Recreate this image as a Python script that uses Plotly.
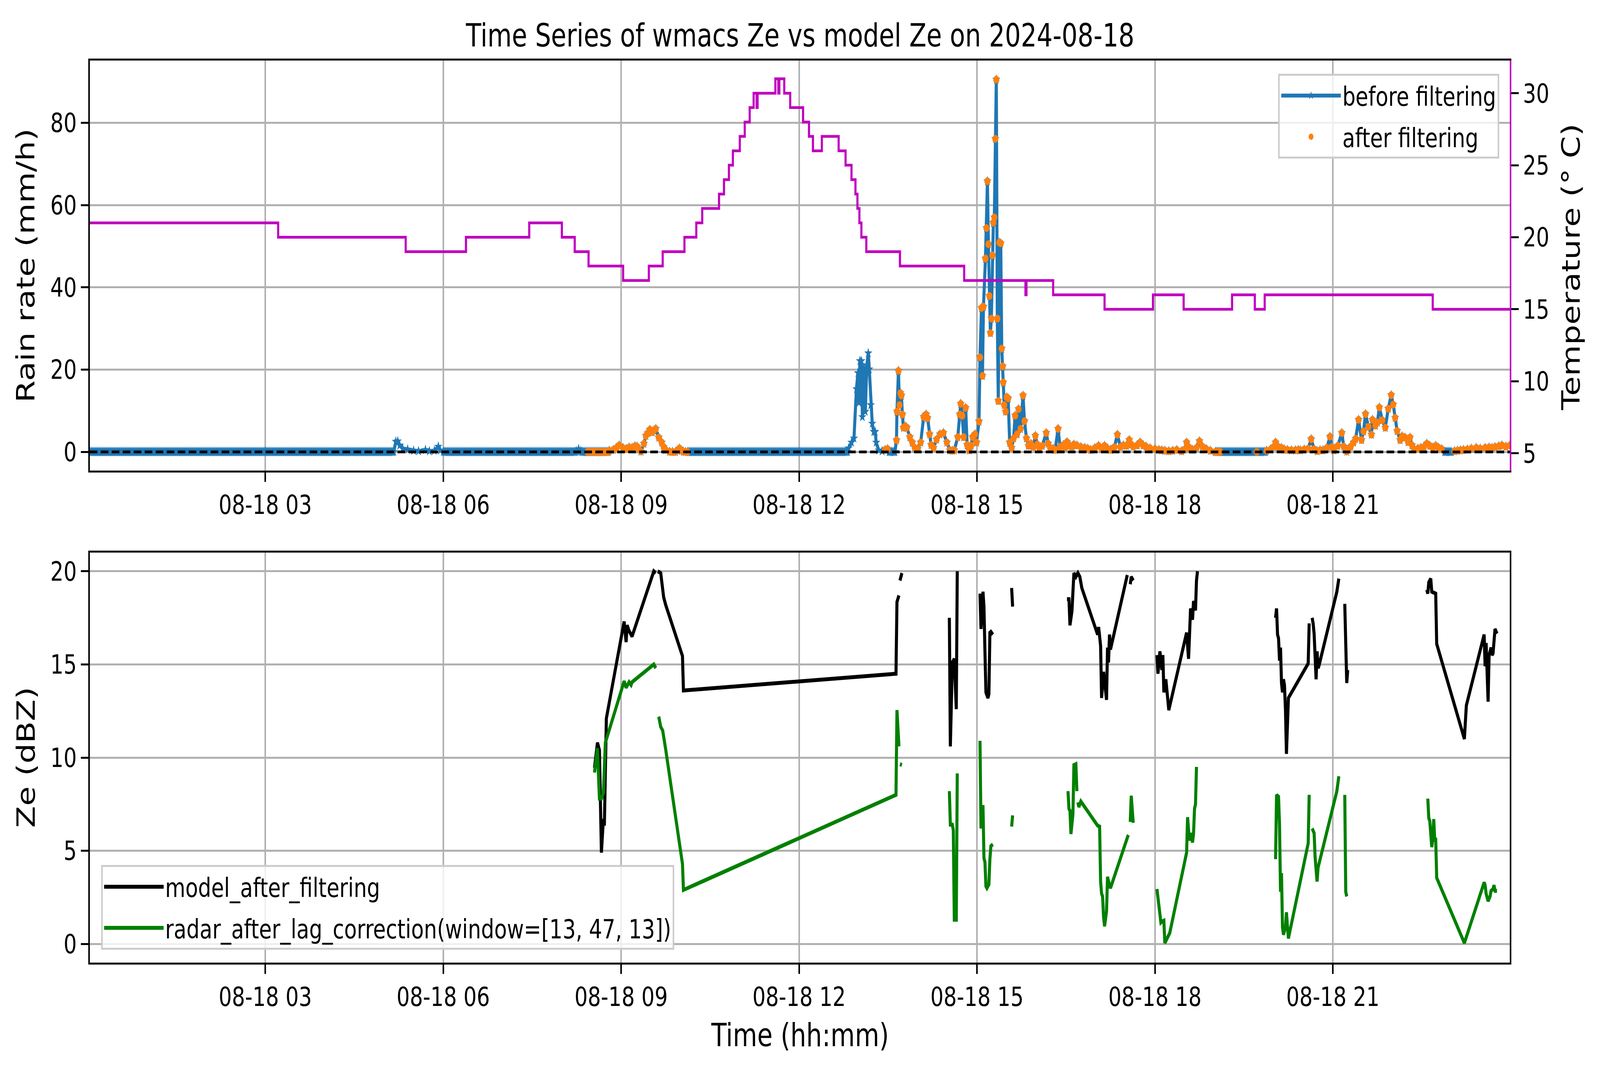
import pandas as pd
import plotly.graph_objects as go

day = "2024-08-18"

# top panel: rain rate (mm/h), dry stretches given as runs of 0 at 1-min steps
rain_zero_runs = [("00:02", "05:09"), ("06:01", "08:14"), ("08:20", "08:47"),
                  ("10:08", "12:49"), ("13:31", "13:37"), ("19:01", "19:52"),
                  ("22:53", "23:00")]

rain_time = ["05:10", "05:12", "05:14", "05:16", "05:19", "05:24", "05:30", "05:35", "05:42", "05:46",
             "05:51", "05:55", "05:57", "06:00", "08:15", "08:17", "08:19", "08:48", "08:52", "08:55",
             "08:58", "09:02", "09:05", "09:08", "09:11", "09:14", "09:16", "09:18", "09:20", "09:23",
             "09:25", "09:27", "09:29", "09:31:30", "09:33", "09:35", "09:38", "09:41", "09:43", "09:45",
             "09:49", "09:52", "09:55", "09:57", "09:59", "10:01", "10:03", "10:05", "10:07",
             "12:50", "12:53", "12:55:30", "12:58", "12:59:30", "13:00:30", "13:01:30", "13:03", "13:04", "13:05:30",
             "13:07", "13:08:30", "13:10", "13:11", "13:12:30", "13:14", "13:15:30", "13:17", "13:18", "13:20:30",
             "13:24", "13:27", "13:29:30", "13:38:30", "13:39", "13:40:30", "13:41:30", "13:42:30", "13:43:30", "13:44:30",
             "13:45:30", "13:47:30", "13:49", "13:52", "13:54:30", "13:57", "14:00", "14:03", "14:06", "14:08:30",
             "14:10", "14:12", "14:13:30", "14:16", "14:19", "14:22:30", "14:26", "14:29:30", "14:32:30", "14:35",
             "14:37", "14:40:30", "14:42:30", "14:43:30", "14:45", "14:46:30", "14:48:30", "14:50", "14:52", "14:54",
             "14:55:30", "14:58", "14:59:30", "15:02", "15:03", "15:04:30", "15:05:30", "15:06:30", "15:08:30", "15:09:30",
             "15:10:30", "15:11:30", "15:12:30", "15:13:30", "15:14:30", "15:15:30", "15:16:30", "15:17:30", "15:18:30", "15:19:30",
             "15:20:30", "15:21:30", "15:22:30", "15:24", "15:25", "15:26", "15:26:30", "15:27:30", "15:29", "15:30",
             "15:31:30", "15:33", "15:35", "15:37", "15:38:30", "15:40:30", "15:42", "15:44", "15:46:30", "15:48",
             "15:50", "15:52", "15:54:30", "15:57", "15:59", "16:01", "16:03", "16:06", "16:10", "16:12",
             "16:14", "16:17", "16:19", "16:22", "16:24", "16:27", "16:29", "16:31", "16:34", "16:36",
             "16:38", "16:41", "16:45", "16:49", "16:52", "16:55", "16:59", "17:03", "17:06", "17:09",
             "17:12", "17:15", "17:19", "17:22", "17:25", "17:28", "17:31", "17:34", "17:36", "17:38",
             "17:42", "17:45", "17:48", "17:51", "17:55", "18:00", "18:04", "18:07", "18:10", "18:14",
             "18:18", "18:22", "18:27", "18:30", "18:32", "18:35", "18:38", "18:42", "18:45", "18:48",
             "18:52", "18:56", "19:53", "19:57", "20:00", "20:02", "20:05", "20:08", "20:11", "20:14",
             "20:18", "20:22", "20:25", "20:27", "20:31", "20:35", "20:38", "20:41", "20:44", "20:47",
             "20:50", "20:54", "20:57", "20:59", "21:01", "21:05", "21:09", "21:11", "21:14", "21:16",
             "21:18", "21:21", "21:23", "21:26", "21:29", "21:31", "21:33", "21:36", "21:39", "21:40",
             "21:43", "21:45", "21:47", "21:50", "21:53", "21:56", "21:59", "22:01", "22:03", "22:05",
             "22:08", "22:10", "22:13", "22:16", "22:18", "22:20", "22:22", "22:26", "22:29", "22:32",
             "22:35", "22:38", "22:41", "22:44", "22:47", "22:50", "23:03", "23:06", "23:09", "23:12",
             "23:16", "23:20", "23:25", "23:29", "23:34", "23:38", "23:41", "23:44", "23:48", "23:51",
             "23:55", "23:59"]
rain_value = [0.05, 2.5, 2.6, 1.6, 0.8, 0.6, 0.3, 0.2, 0.5, 0.2,
              0.3, 1.3, 0.4, 0.05, 0.2, 0.7, 0.2, 0.3, 0.5, 0.9,
              1.6, 0.9, 0.7, 1.1, 1.0, 1.4, 1.3, 0.6, 0.1, 2.0,
              3.9, 4.6, 5.4, 4.8, 5.2, 5.6, 3.5, 2.3, 1.2, 0.5,
              0.05, 0.0, 0.0, 0.4, 0.85, 0.3, 0.05, 0.0, 0.0,
              0.9, 2.3, 3.3, 15.3, 19.2, 12.0, 22.1, 22.1, 8.5, 20.5,
              9.8, 21.1, 24.0, 20.1, 11.4, 6.9, 4.9, 4.9, 2.3, 0.4,
              0.2, 0.5, 0.7, 2.85, 9.8, 19.7, 11.4, 14.3, 13.7, 9.1,
              5.9, 6.2, 5.9, 3.6, 2.3, 1.0, 0.7, 2.3, 8.5, 9.1,
              8.2, 4.3, 1.7, 1.0, 3.0, 4.3, 4.6, 2.3, 0.4, 0.3,
              0.4, 3.6, 9.1, 11.7, 8.8, 3.6, 10.7, 1.7, 0.4, 1.5,
              3.6, 4.3, 2.3, 7.4, 23.0, 35.0, 18.5, 35.3, 47.0, 54.4,
              65.8, 50.5, 37.9, 28.9, 32.4, 47.8, 55.7, 57.0, 76.1, 90.5,
              32.4, 12.4, 50.9, 50.7, 25.1, 20.8, 16.9, 11.4, 9.8, 13.3,
              13.0, 2.3, 1.0, 3.3, 8.8, 4.3, 10.4, 5.6, 13.7, 7.5,
              3.3, 1.5, 2.0, 1.2, 3.9, 1.8, 1.0, 1.5, 4.6, 2.0,
              1.0, 0.8, 0.5, 5.6, 1.2, 1.6, 1.0, 2.4, 1.5, 1.3,
              1.8, 1.6, 1.2, 1.0, 0.8, 0.5, 0.9, 1.5, 0.7, 1.5,
              0.8, 0.5, 1.2, 4.2, 1.2, 1.6, 1.5, 2.9, 1.8, 1.3,
              1.6, 2.3, 1.6, 1.3, 0.9, 0.7, 0.5, 0.4, 0.3, 0.2,
              0.3, 0.5, 0.2, 0.6, 2.3, 1.0, 0.5, 1.0, 2.6, 1.3,
              0.7, 0.3, 0.3, 0.6, 1.2, 2.3, 1.2, 1.0, 0.6, 0.5,
              0.4, 0.4, 0.5, 0.4, 0.6, 0.8, 3.1, 0.7, 0.2, 0.4,
              0.4, 1.0, 3.7, 1.2, 0.4, 1.5, 4.6, 1.3, 0.1, 0.6,
              1.3, 2.3, 3.2, 7.8, 2.9, 5.0, 9.2, 6.1, 4.2, 7.8,
              6.4, 7.2, 10.8, 7.7, 5.9, 10.5, 13.8, 11.5, 8.3, 5.1,
              2.9, 3.8, 3.5, 2.4, 3.5, 1.6, 0.7, 0.8, 1.0, 1.2,
              2.0, 1.5, 1.0, 1.5, 1.0, 0.7, 0.2, 0.3, 0.4, 0.5,
              0.6, 0.8, 1.0, 0.8, 1.0, 1.1, 1.0, 1.2, 1.4, 1.6,
              1.3, 1.6]

# periods kept by the filter (orange dots)
kept_windows = [("08:26", "10:07"), ("13:26", "13:30"), ("13:38", "19:06"),
                ("19:43", "19:43"), ("19:53", "22:52"), ("23:01", "23:59")]

# temperature (deg C), value holds from each change time
temp_time = ["00:02", "03:13", "05:22", "06:23", "07:27", "08:00", "08:13", "08:27", "09:02", "09:28",
             "09:42", "10:04", "10:16", "10:22", "10:39", "10:44", "10:49", "10:53", "11:00", "11:05",
             "11:10", "11:14", "11:17", "11:18", "11:36", "11:39", "11:40", "11:45", "11:51", "12:04",
             "12:10", "12:14", "12:23", "12:40", "12:47", "12:53", "12:57", "12:59", "13:01", "13:03",
             "13:08", "13:42", "14:47", "15:49", "15:50", "16:17", "17:09", "17:58", "18:29", "19:18",
             "19:41", "19:51", "22:41", "23:59"]
temp_value = [21, 20, 19, 20, 21, 20, 19, 18, 17, 18,
              19, 20, 21, 22, 23, 24, 25, 26, 27, 28,
              29, 30, 29, 30, 31, 30, 31, 30, 29, 28,
              27, 26, 27, 26, 25, 24, 23, 22, 21, 20,
              19, 18, 17, 16, 17, 16, 15, 16, 15, 16,
              15, 16, 15, 15]

# bottom panel: Ze (dBZ); None marks a break in the line
model_time = ["08:33", "08:36", "08:38", "08:40", "08:42", "08:43", "08:45", "09:03", "09:05", "09:06",
              "09:08", "09:11", "09:33", "09:35", "09:36", "09:37", "09:40", "09:43", "09:45", "10:02",
              "10:03", "13:38", "13:39", "13:41", "13:41:30", "13:42", "13:44", "14:00",
              "14:32", "14:33", "14:35", "14:37", "14:39", "14:40", "14:50",
              "15:03", "15:04", "15:06", "15:07", "15:08", "15:09", "15:11", "15:12", "15:13", "15:14",
              "15:16", "15:25", "15:35", "15:36", "16:00",
              "16:31", "16:33", "16:34", "16:36", "16:38", "16:40", "16:42", "16:44", "16:46", "17:02",
              "17:03", "17:05", "17:06", "17:08", "17:11", "17:12", "17:13", "17:14", "17:15", "17:32",
              "17:33", "17:35", "17:36", "17:38", "17:50",
              "18:02", "18:03", "18:05", "18:07", "18:08", "18:09", "18:11", "18:14", "18:32", "18:34",
              "18:36", "18:38", "18:39", "18:41", "18:42", "18:43", "19:00",
              "20:02", "20:03", "20:04", "20:05", "20:06", "20:07", "20:08", "20:09", "20:10", "20:11",
              "20:12", "20:13", "20:15", "20:35", "20:36", "20:37",
              "20:39", "20:40", "20:41", "20:43", "20:44", "20:45", "20:46", "21:04", "21:06", "21:09",
              "21:12", "21:13", "21:14", "21:15", "21:30",
              "22:35", "22:36", "22:37", "22:39", "22:40", "22:42", "22:44", "22:45", "23:13", "23:15",
              "23:33", "23:34", "23:35", "23:37", "23:38", "23:40", "23:41", "23:42", "23:44", "23:46"]
model_ze = [9.45, 10.8, 10.4, 4.9, 6.7, 6.35, 12.1, 17.3, 16.2, 17.1,
            16.8, 16.5, 20.0, 19.9, None, 20.0, 19.9, 18.6, 18.2, 15.45,
            13.6, 14.5, 18.35, 18.7, None, 19.5, 19.9, None,
            17.5, 10.6, 15.1, 15.3, 12.6, 20.0, None,
            18.8, 16.9, 18.9, 18.1, 15.7, 13.5, 13.2, 13.4, 16.7, 16.75,
            16.6, None, 19.1, 18.1, None,
            18.5, 18.5, 17.1, 17.85, 19.9, 19.7, 19.9, 19.7, 19.1, 16.6,
            17.0, 16.0, 13.2, 14.6, 13.1, 15.9, 15.1, 16.6, 15.8, 19.8,
            None, 19.3, 19.7, 19.5, None,
            15.5, 14.5, 15.7, 14.7, 15.5, 13.5, 14.2, 12.55, 16.7, 15.3,
            18.0, 17.4, 18.4, 17.9, 19.5, 20.0, None,
            17.5, 18.0, 16.6, 16.4, 15.2, 15.9, 14.0, 13.5, 14.2, 13.9,
            12.6, 10.2, 13.2, 15.05, 17.2, None,
            17.5, 17.2, 16.65, 14.2, 15.7, 14.8, 14.95, 18.9, 19.6, None,
            18.25, 14.9, 14.0, 14.7, None,
            19.0, 18.8, 19.4, 19.6, 18.9, 18.85, 18.8, 16.1, 11.0, 12.8,
            16.6, 14.9, 16.15, 13.0, 15.5, 15.9, 15.5, 15.6, 16.9, 16.65]

radar_time = ["08:33", "08:36", "08:38", "08:40", "08:42", "08:44", "09:03", "09:05", "09:08", "09:10",
              "09:11", "09:33", "09:35", "09:36", "09:38", "09:40", "09:42", "09:45", "10:02", "10:03",
              "13:38", "13:39", "13:41", "13:41:30", "13:42", "13:44", "14:00",
              "14:32", "14:33", "14:35", "14:36", "14:37", "14:39", "14:40", "14:50",
              "15:03", "15:04", "15:06", "15:07", "15:08", "15:09", "15:10", "15:11", "15:12", "15:13",
              "15:14", "15:16", "15:25", "15:35", "15:36", "16:00",
              "16:32", "16:33", "16:34", "16:35", "16:37", "16:38", "16:40", "16:41", "16:41:20", "16:42",
              "16:43", "16:45", "17:02", "17:04", "17:05", "17:06", "17:07", "17:08", "17:09", "17:11",
              "17:12", "17:14", "17:15", "17:33", "17:34", "17:35", "17:36", "17:38", "17:50",
              "18:02", "18:03", "18:04", "18:06", "18:07", "18:09", "18:10", "18:15", "18:32", "18:33",
              "18:34", "18:35", "18:36", "18:38", "18:39", "18:40", "18:41", "18:42", "19:00",
              "20:02", "20:03", "20:05", "20:06", "20:07", "20:08", "20:09", "20:10", "20:12", "20:13",
              "20:14", "20:15", "20:35", "20:36", "20:37",
              "20:39", "20:41", "20:42", "20:44", "20:45", "21:04", "21:06", "21:09",
              "21:12", "21:13", "21:14", "21:30",
              "22:36", "22:37", "22:38", "22:40", "22:41", "22:42", "22:43", "22:44", "22:45", "23:13",
              "23:33", "23:34", "23:35", "23:37", "23:39", "23:40", "23:42", "23:43", "23:44", "23:46"]
radar_ze = [9.2, 10.5, 7.8, 7.8, 8.1, 10.8, 14.1, 13.75, 14.05, 13.9,
            14.05, 15.0, 14.8, None, 12.2, 11.65, 11.45, 10.45, 4.3, 2.9,
            8.0, 12.55, 10.6, None, 9.65, 9.6, None,
            8.2, 6.4, 6.4, 6.1, 1.3, 1.3, 9.15, None,
            10.9, 6.2, 7.45, 4.6, 4.4, 3.1, 3.0, 3.15, 3.2, 4.55,
            5.25, 5.35, None, 6.3, 6.9, None,
            8.2, 7.25, 7.15, 5.9, 6.95, 9.6, 9.65, 8.2, None, 7.6,
            7.35, 7.65, 6.35, 6.3, 3.35, 2.7, 2.55, 1.45, 0.95, 1.75,
            3.6, 3.15, 3.0, 5.85, None, 6.55, 7.95, 6.5, None,
            2.95, 2.5, 2.1, 1.15, 1.2, 1.25, 0.05, 0.6, 4.9, 6.8,
            6.1, 5.55, 5.95, 5.45, 5.9, 7.25, 7.5, 9.5, None,
            4.55, 8.0, 7.9, 6.4, 2.8, 3.8, 0.9, 0.5, 0.9, 1.7,
            0.95, 0.3, 5.4, 8.0, None,
            6.2, 5.95, 4.65, 3.35, 4.1, 8.2, 9.0, None,
            8.0, 2.8, 2.55, None,
            7.8, 6.75, 6.6, 5.2, 5.6, 6.7, 5.6, 5.6, 3.55, 0.05,
            3.3, 3.15, 2.7, 2.3, 2.55, 2.85, 2.95, 3.15, 2.85, 2.85]

baseline_rain = 0
x_start, x_end = "00:02:24", "23:59:06"
rain_range = [-4.53, 95.13]
temp_range = [3.80, 32.27]
ze_range = [-1.0, 21.0]


def ts(t):
    return pd.to_datetime(day + " " + t)


# build the rain table
parts = [pd.DataFrame({"time": pd.date_range(ts(a), ts(b), freq="1min"), "rain": 0.0})
         for a, b in rain_zero_runs]
parts.append(pd.DataFrame({"time": [ts(t) for t in rain_time], "rain": rain_value}))
rain = pd.concat(parts).sort_values("time").reset_index(drop=True)

kept = pd.Series(False, index=rain.index)
for a, b in kept_windows:
    kept |= (rain["time"] >= ts(a)) & (rain["time"] <= ts(b) + pd.Timedelta(seconds=59))
after = rain[kept]

W, H = 5241, 2740
FONT = "DejaVu Sans"
xdom = [294 / W, 4946 / W]
top_dom = [1 - 1205 / H, 1 - 155 / H]
bot_dom = [1 - 2465 / H, 1 - 1415 / H]

fig = go.Figure()

fig.add_trace(go.Scatter(x=rain["time"], y=rain["rain"], mode="lines+markers",
                         name="before filtering", legend="legend", legendgroup="a",
                         line=dict(color="#1f77b4", width=10),
                         marker=dict(symbol="star", size=20, color="#1f77b4")))
fig.add_trace(go.Scatter(x=after["time"], y=after["rain"], mode="markers",
                         name="after filtering", legend="legend", legendgroup="b",
                         marker=dict(symbol="circle", size=20, color="#ff7f0e")))
fig.add_trace(go.Scatter(x=[ts(t) for t in temp_time], y=temp_value, mode="lines",
                         yaxis="y2", line=dict(color="#bf00bf", width=7, shape="hv"),
                         showlegend=False))

fig.add_trace(go.Scatter(x=[ts(t) for t in model_time], y=model_ze, mode="lines",
                         xaxis="x2", yaxis="y3", name="model_after_filtering",
                         legend="legend2", legendgroup="c",
                         line=dict(color="black", width=10)))
fig.add_trace(go.Scatter(x=[ts(t) for t in radar_time], y=radar_ze, mode="lines",
                         xaxis="x2", yaxis="y3",
                         name="radar_after_lag_correction(window=[13, 47, 13])",
                         legend="legend2", legendgroup="d",
                         line=dict(color="#008000", width=10)))

fig.add_shape(type="line", xref="x domain", x0=0, x1=1, yref="y",
              y0=baseline_rain, y1=baseline_rain, layer="above",
              line=dict(color="black", width=7, dash="25px,11px"))

tick_font = dict(family=FONT, size=68, color="black")
common_x = dict(type="date", range=[ts(x_start), ts(x_end)], domain=xdom,
                tickformat="%m-%d %H", dtick=3 * 3600 * 1000, tick0=ts("00:00"),
                showgrid=True, gridcolor="#b0b0b0", gridwidth=5,
                showline=True, linecolor="black", linewidth=5, mirror=True,
                ticks="outside", ticklen=24, tickwidth=5, tickcolor="black",
                tickfont=tick_font, zeroline=False)
common_y = dict(showgrid=True, gridcolor="#b0b0b0", gridwidth=5,
                showline=True, linecolor="black", linewidth=5, mirror=True,
                ticks="outside", ticklen=24, tickwidth=5, tickcolor="black",
                tickfont=tick_font, zeroline=False)

legend_style = dict(bgcolor="rgba(255,255,255,0.8)", bordercolor="#cccccc", borderwidth=5,
                    font=dict(family=FONT, size=68, color="black"), itemwidth=195,
                    traceorder="grouped", tracegroupgap=14)

fig.update_layout(
    width=W, height=H, margin=dict(l=0, r=0, t=0, b=0),
    paper_bgcolor="white", plot_bgcolor="white",
    font=dict(family=FONT, color="black"),
    xaxis=dict(anchor="y", **common_x),
    yaxis=dict(domain=top_dom, anchor="x", range=rain_range, dtick=20, tick0=0, **common_y),
    yaxis2=dict(overlaying="y", side="right", anchor="x", range=temp_range, dtick=5, tick0=0,
                showgrid=False, showline=True, linecolor="#bf00bf", linewidth=5,
                ticks="outside", ticklen=24, tickwidth=5, tickcolor="black",
                tickfont=tick_font, zeroline=False),
    xaxis2=dict(anchor="y3", **common_x),
    yaxis3=dict(domain=bot_dom, anchor="x2", range=ze_range, dtick=5, tick0=0, **common_y),
    legend=dict(x=4911 / W, y=1 - 189 / H, xanchor="right", yanchor="top", **legend_style),
    legend2=dict(x=331 / W, y=1 - 2432 / H, xanchor="left", yanchor="bottom", **legend_style),
    showlegend=True,
)

label_font = dict(family=FONT, size=82, color="black")
fig.add_annotation(text="Time Series of wmacs Ze vs model Ze on 2024-08-18",
                   xref="paper", yref="paper", x=2620 / W, y=1 - 90 / H,
                   xanchor="center", yanchor="middle", showarrow=False, font=label_font)
fig.add_annotation(text="Rain rate (mm/h)", xref="paper", yref="paper", x=84 / W, y=1 - 680 / H,
                   textangle=-90, xanchor="center", yanchor="middle", showarrow=False, font=label_font)
fig.add_annotation(text="Temperature (° C)", xref="paper", yref="paper", x=5147 / W, y=1 - 684 / H,
                   textangle=-90, xanchor="center", yanchor="middle", showarrow=False, font=label_font)
fig.add_annotation(text="Ze (dBZ)", xref="paper", yref="paper", x=85 / W, y=1 - 1940 / H,
                   textangle=-90, xanchor="center", yanchor="middle", showarrow=False, font=label_font)
fig.add_annotation(text="Time (hh:mm)", xref="paper", yref="paper", x=2620 / W, y=1 - 2650 / H,
                   xanchor="center", yanchor="middle", showarrow=False, font=label_font)

# the browser may open a smaller viewport than 5241x2740: map the figure onto it
fit_js = """
var gd = document.getElementById('{plot_id}');
var sx = window.innerWidth / 5241, sy = window.innerHeight / 2740;
document.documentElement.style.margin = '0';
document.body.style.margin = '0';
document.documentElement.style.overflow = 'hidden';
document.body.style.overflow = 'hidden';
var box = gd.parentElement;
box.style.width = (5241 * sx) + 'px';
box.style.height = (2740 * sy) + 'px';
box.style.overflow = 'hidden';
gd.style.transformOrigin = '0 0';
gd.style.transform = 'scale(' + sx + ',' + sy + ')';
"""

fig.write_html("out.html", post_script=fit_js, config={"displayModeBar": False})
